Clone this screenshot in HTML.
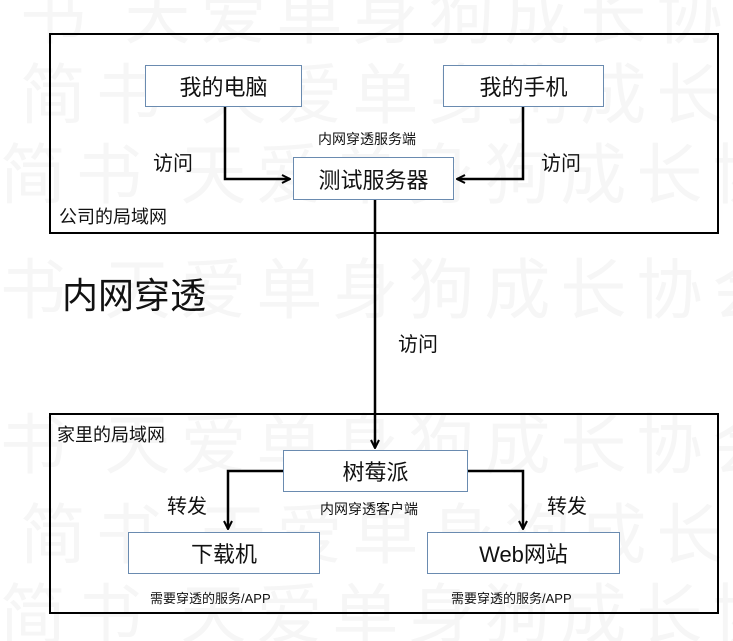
<!DOCTYPE html>
<html style="overflow:hidden;width:733px;height:641px"><head><meta charset="utf-8"><style>
body{margin:0;width:733px;height:641px;background:#fff;position:relative;overflow:hidden;font-family:"Liberation Sans","Noto Sans CJK SC",sans-serif;}
.wm{position:absolute;white-space:nowrap;color:#f6f6f6;font-size:66px;letter-spacing:10px;left:0;line-height:70px;}
.outer{position:absolute;border:2px solid #000;box-sizing:border-box;}
.box{position:absolute;border:1.5px solid #6a8bb0;background:#fff;box-sizing:border-box;display:flex;align-items:center;justify-content:center;font-size:22px;color:#111;}
.t{position:absolute;white-space:nowrap;color:#111;}
</style></head><body>
<div class="wm" style="top:-20px;left:20px">书 天爱单身狗成长协会</div>
<div class="wm" style="top:60px;left:20px">简书 天爱单身狗成长协</div>
<div class="wm" style="top:140px;left:0px">简书 天爱单身狗成长协</div>
<div class="wm" style="top:255px;left:0px">书 天爱单身狗成长协会</div>
<div class="wm" style="top:410px;left:0px">书 天爱单身狗成长协会</div>
<div class="wm" style="top:500px;left:20px">简书 天爱单身狗成长协</div>
<div class="wm" style="top:580px;left:0px">简书 天爱单身狗成长协</div>

<div class="outer" style="left:49px;top:33px;width:670px;height:201px"></div>
<div class="outer" style="left:49px;top:413px;width:670px;height:201px"></div>

<svg style="position:absolute;left:0;top:0" width="733" height="641">
<defs><marker id="ar" markerWidth="10" markerHeight="10" refX="9" refY="5" orient="auto" markerUnits="userSpaceOnUse"><path d="M1,1 L9,5 L1,9" fill="none" stroke="#000" stroke-width="2"/></marker></defs>
<g fill="none" stroke="#000" stroke-width="2.5">
<path d="M225,107 V179 H290" marker-end="url(#ar)"/>
<path d="M523,107 V179 H457" marker-end="url(#ar)"/>
<path d="M375,200 V448" marker-end="url(#ar)"/>
<path d="M283,471 H228 V529" marker-end="url(#ar)"/>
<path d="M468,471 H523 V529" marker-end="url(#ar)"/>
</g></svg>

<div class="box" style="left:145px;top:65px;width:157px;height:42px">我的电脑</div>
<div class="box" style="left:443px;top:65px;width:161px;height:42px">我的手机</div>
<div class="box" style="left:293px;top:157px;width:161px;height:43px">测试服务器</div>
<div class="box" style="left:283px;top:450px;width:185px;height:42px">树莓派</div>
<div class="box" style="left:128px;top:532px;width:192px;height:42px">下载机</div>
<div class="box" style="left:427px;top:532px;width:193px;height:42px">Web网站</div>

<div class="t" style="left:318px;top:129px;font-size:14px">内网穿透服务端</div>
<div class="t" style="left:153px;top:147px;font-size:20px">访问</div>
<div class="t" style="left:541px;top:147px;font-size:20px">访问</div>
<div class="t" style="left:59px;top:203px;font-size:18px">公司的局域网</div>
<div class="t" style="left:62px;top:267px;font-size:36px">内网穿透</div>
<div class="t" style="left:398px;top:328px;font-size:20px">访问</div>
<div class="t" style="left:57px;top:421px;font-size:18px">家里的局域网</div>
<div class="t" style="left:320px;top:499px;font-size:14px">内网穿透客户端</div>
<div class="t" style="left:167px;top:490px;font-size:20px">转发</div>
<div class="t" style="left:547px;top:490px;font-size:20px">转发</div>
<div class="t" style="left:150px;top:588px;font-size:13px">需要穿透的服务/APP</div>
<div class="t" style="left:451px;top:588px;font-size:13px">需要穿透的服务/APP</div>
</body></html>
